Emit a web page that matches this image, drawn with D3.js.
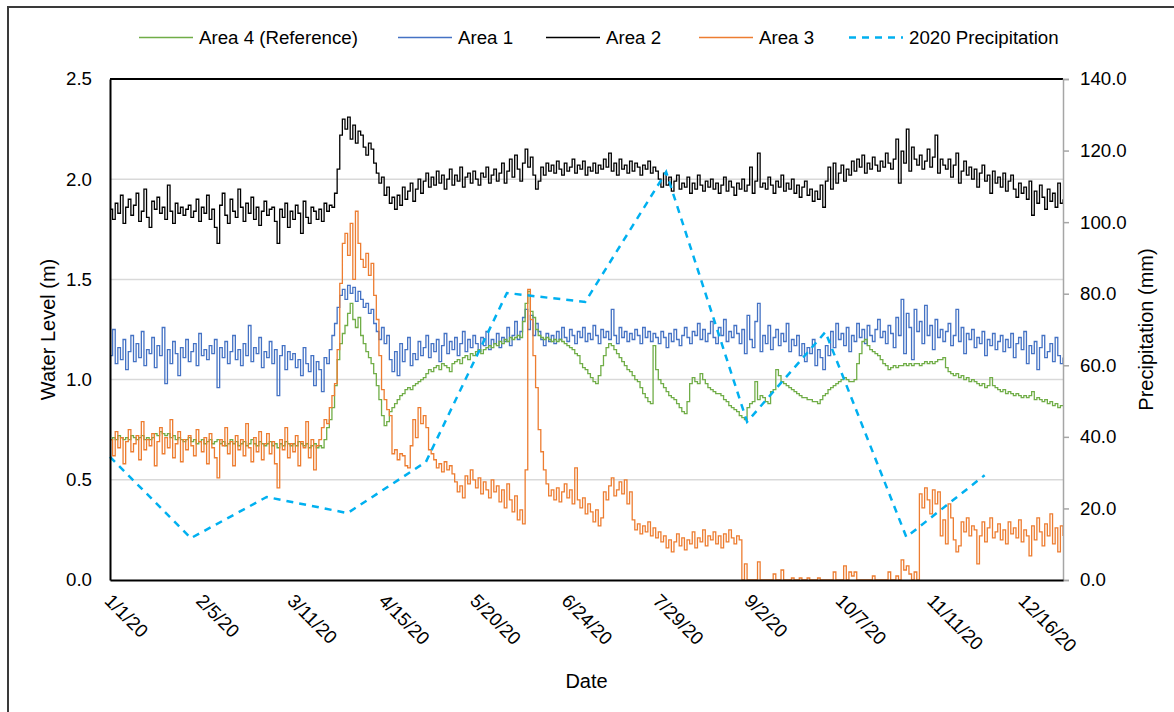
<!DOCTYPE html>
<html><head><meta charset="utf-8">
<script src="https://cdn.jsdelivr.net/npm/d3@7"></script>
<style>
body{margin:0;background:#fff;}
svg{display:block;font-family:"Liberation Sans",Arial,sans-serif;}
</style>
</head><body>
<svg id="chart" width="1174" height="712"></svg>
<script>
// ---------------- DATA ----------------
const startDate = "2020-01-01";
const endDate = "2020-12-31";

// Area 4 (Reference) daily water level (m)
const area4 = [
0.70,0.71,0.70,0.72,0.71,0.70,0.71,0.70,0.72,0.71,
0.70,0.71,0.72,0.70,0.71,0.70,0.71,0.73,0.72,0.74,
0.73,0.72,0.73,0.71,0.72,0.70,0.71,0.70,0.69,0.70,
0.71,0.69,0.70,0.68,0.69,0.70,0.68,0.69,0.70,0.68,
0.69,0.70,0.68,0.69,0.67,0.68,0.70,0.68,0.69,0.67,
0.68,0.69,0.67,0.68,0.70,0.68,0.67,0.69,0.68,0.67,
0.68,0.69,0.67,0.68,0.66,0.68,0.67,0.69,0.68,0.67,
0.68,0.67,0.69,0.68,0.67,0.68,0.66,0.67,0.68,0.66,
0.67,0.66,0.70,0.76,0.80,0.86,0.97,1.10,1.18,1.23,
1.27,1.33,1.38,1.30,1.26,1.31,1.22,1.18,1.14,1.11,
1.08,1.03,0.97,0.90,0.82,0.77,0.79,0.84,0.86,0.88,
0.90,0.92,0.93,0.95,0.96,0.95,0.97,0.98,0.99,1.00,
1.01,1.03,1.05,1.04,1.06,1.07,1.05,1.08,1.07,1.06,
1.04,1.08,1.09,1.10,1.08,1.11,1.12,1.10,1.13,1.12,
1.14,1.15,1.13,1.15,1.16,1.17,1.16,1.18,1.17,1.19,
1.18,1.20,1.19,1.21,1.20,1.21,1.22,1.21,1.29,1.38,
1.44,1.34,1.31,1.25,1.22,1.21,1.20,1.21,1.20,1.19,
1.20,1.19,1.20,1.19,1.18,1.17,1.16,1.15,1.13,1.12,
1.08,1.06,1.05,1.03,1.01,0.99,0.98,1.02,1.07,1.12,
1.16,1.18,1.17,1.15,1.13,1.11,1.09,1.07,1.05,1.04,
1.02,1.00,0.99,0.96,0.93,0.91,0.89,0.88,1.17,1.05,
1.00,0.98,0.96,0.94,0.92,0.91,0.90,0.88,0.86,0.84,
0.83,0.89,0.98,1.01,0.99,0.98,1.03,1.00,0.98,0.96,
0.95,0.94,0.93,0.93,0.92,0.90,0.89,0.87,0.86,0.85,
0.84,0.82,0.81,0.80,0.86,0.88,0.89,0.99,0.90,0.92,
0.91,0.89,0.88,0.94,0.95,1.05,1.02,0.99,0.98,0.97,
0.96,0.95,0.94,0.93,0.92,0.91,0.91,0.90,0.90,0.89,
0.89,0.88,0.90,0.92,0.93,0.95,0.96,0.97,0.98,0.99,
1.00,1.01,1.00,0.99,0.99,1.00,1.08,1.13,1.19,1.20,
1.17,1.15,1.14,1.13,1.12,1.10,1.08,1.07,1.05,1.06,
1.07,1.06,1.07,1.07,1.08,1.07,1.08,1.07,1.08,1.08,
1.07,1.08,1.09,1.08,1.09,1.08,1.09,1.10,1.10,1.11,
1.06,1.04,1.03,1.02,1.03,1.01,1.02,1.00,1.01,0.99,
1.00,0.99,0.98,0.97,0.98,0.96,0.97,1.01,0.97,0.96,
0.95,0.94,0.95,0.93,0.94,0.93,0.92,0.93,0.92,0.91,
0.92,0.91,0.92,0.94,0.90,0.91,0.90,0.89,0.90,0.88,
0.89,0.87,0.88,0.86,0.87,0.87
];

// Area 1 daily water level (m)
const area1 = [
1.12,1.25,1.08,1.16,1.10,1.20,1.05,1.14,1.22,1.09,
1.18,1.11,1.24,1.07,1.15,1.13,1.21,1.06,1.17,1.12,
1.26,0.98,1.15,1.08,1.19,1.13,1.02,1.16,1.11,1.20,
1.09,1.14,1.18,1.07,1.23,1.12,1.15,1.10,1.17,1.13,
1.20,0.96,1.16,1.11,1.19,1.08,1.14,1.22,1.10,1.15,
1.07,1.18,1.12,1.27,1.09,1.16,1.13,1.21,1.06,1.14,
1.11,1.19,1.08,1.15,0.92,1.12,1.17,1.05,1.14,1.10,
1.13,1.06,1.10,1.02,1.16,1.08,1.04,1.12,0.97,1.09,
1.05,0.94,1.11,1.08,1.15,1.22,1.28,1.36,1.42,1.45,
1.40,1.47,1.43,1.46,1.39,1.44,1.40,1.36,1.38,1.33,
1.35,1.28,1.24,1.20,1.26,1.18,1.22,1.10,1.04,1.14,
1.02,1.18,1.09,1.15,1.21,1.07,1.13,1.10,1.19,1.12,
1.16,1.22,1.11,1.18,1.14,1.20,1.09,1.17,1.23,1.13,
1.19,1.15,1.21,1.12,1.18,1.24,1.14,1.20,1.16,1.22,
1.18,1.14,1.21,1.17,1.24,1.15,1.20,1.18,1.23,1.16,
1.21,1.19,1.26,1.17,1.22,1.29,1.20,1.24,1.31,1.35,
1.25,1.32,1.22,1.28,1.24,1.20,1.17,1.23,1.19,1.22,
1.18,1.24,1.20,1.26,1.21,1.19,1.25,1.22,1.18,1.24,
1.21,1.26,1.19,1.23,1.20,1.27,1.22,1.18,1.25,1.21,
1.24,1.20,1.35,1.22,1.18,1.26,1.21,1.24,1.19,1.23,
1.20,1.25,1.22,1.18,1.26,1.21,1.24,1.19,1.23,1.21,
1.18,1.24,1.21,1.16,1.23,1.19,1.25,1.20,1.17,1.22,
1.26,1.21,1.18,1.24,1.22,1.28,1.20,1.25,1.19,1.23,
1.29,1.21,1.18,1.26,1.22,1.30,1.19,1.24,1.21,1.27,
1.23,1.18,1.25,1.13,1.32,1.20,1.16,1.29,1.38,1.14,
1.22,1.18,1.27,1.15,1.21,1.25,1.17,1.23,1.19,1.28,
1.14,1.20,1.17,1.22,1.12,1.18,1.09,1.16,1.13,1.20,
1.07,1.15,1.11,1.05,1.17,1.12,1.24,1.16,1.28,1.20,
1.23,1.17,1.26,1.14,1.22,1.19,1.28,1.21,1.25,1.18,
1.27,1.22,1.19,1.25,1.30,1.21,1.24,1.18,1.27,1.23,
1.16,1.31,1.22,1.40,1.13,1.33,1.26,1.10,1.35,1.24,
1.29,1.18,1.37,1.22,1.27,1.15,1.30,1.21,1.25,1.19,
1.24,1.28,1.17,1.22,1.35,1.19,1.26,1.13,1.23,1.20,
1.25,1.16,1.21,1.18,1.24,1.12,1.20,1.17,1.23,1.15,
1.19,1.22,1.14,1.20,1.16,1.23,1.11,1.18,1.21,1.15,
1.24,1.08,1.17,1.13,1.19,1.05,1.16,1.22,1.11,1.14,
1.18,1.09,1.21,1.12,1.08,1.11
];

// Area 2 daily water level (m)
const area2 = [
1.85,1.80,1.88,1.83,1.92,1.78,1.86,1.90,1.82,1.87,
1.93,1.79,1.84,1.95,1.81,1.76,1.89,1.85,1.91,1.83,
1.86,1.80,1.97,1.84,1.78,1.88,1.83,1.86,1.82,1.85,
1.87,1.81,1.84,1.90,1.79,1.86,1.83,1.92,1.80,1.85,
1.76,1.68,1.87,1.93,1.82,1.78,1.90,1.84,1.81,1.95,
1.86,1.79,1.88,1.83,1.91,1.80,1.86,1.77,1.84,1.89,
1.82,1.85,1.86,1.79,1.68,1.85,1.81,1.88,1.76,1.84,
1.80,1.87,1.83,1.73,1.89,1.81,1.78,1.86,1.84,1.80,
1.85,1.79,1.88,1.84,1.87,1.86,1.93,2.05,2.22,2.30,
2.25,2.31,2.20,2.27,2.18,2.24,2.22,2.16,2.12,2.18,
2.15,2.08,2.03,1.98,2.01,1.92,1.96,1.88,1.91,1.85,
1.92,1.87,1.96,1.90,1.94,1.98,1.89,1.95,2.00,1.93,
1.99,2.03,1.96,2.01,1.97,2.04,1.98,2.02,1.95,2.00,
2.05,1.97,2.02,1.99,2.06,1.96,2.01,2.03,1.98,2.04,
2.00,1.97,2.03,2.01,2.06,1.98,2.02,2.05,1.99,2.03,
2.08,1.98,2.04,2.10,2.01,2.12,2.05,1.99,2.08,2.15,
2.06,2.11,2.02,1.95,1.99,2.06,2.02,2.08,2.04,2.07,
2.03,2.09,2.05,2.02,2.08,2.04,2.06,2.10,2.03,2.07,
2.05,2.09,2.02,2.06,2.04,2.08,2.03,2.07,2.05,2.10,
2.06,2.13,2.04,2.08,2.02,2.10,2.05,2.07,2.03,2.09,
2.04,2.08,2.06,2.02,2.07,2.05,2.09,2.03,2.06,2.04,
2.00,1.96,2.03,1.97,2.01,1.94,1.99,2.02,1.95,1.98,
1.96,2.01,1.93,1.98,1.95,2.02,1.97,1.94,1.99,1.96,
2.00,1.95,1.98,1.93,1.97,2.01,1.94,1.99,1.96,1.92,
1.98,1.95,2.00,1.94,1.97,2.06,1.93,1.99,2.13,1.96,
1.98,1.95,2.01,1.97,1.93,1.99,1.96,2.02,1.94,1.98,
1.95,2.00,1.93,1.97,1.91,1.96,1.99,1.92,1.95,1.89,
1.94,1.90,1.97,1.86,1.99,2.06,1.95,2.08,1.98,2.03,
2.07,1.99,2.05,2.02,2.09,2.04,2.10,2.06,2.12,2.03,
2.08,2.05,2.11,2.07,2.04,2.09,2.06,2.13,2.08,2.05,
2.10,2.20,1.98,2.14,2.08,2.25,2.04,2.16,2.10,2.07,
2.12,2.05,2.09,2.15,2.06,2.11,2.22,2.03,2.10,2.07,
2.05,2.10,2.01,2.07,2.13,1.98,2.04,2.09,2.02,2.06,
2.00,2.05,1.96,2.03,2.07,1.99,2.02,1.93,2.04,1.98,
2.01,1.96,2.03,1.94,1.99,2.02,1.95,1.91,1.98,1.93,
1.96,1.90,1.99,1.82,1.94,1.88,1.97,1.91,1.85,1.95,
1.89,1.93,1.86,1.98,1.88,1.90
];

// Area 3 daily water level (m)
const area3 = [
0.70,0.62,0.74,0.66,0.71,0.58,0.69,0.75,0.64,0.68,
0.72,0.60,0.79,0.65,0.70,0.67,0.73,0.57,0.69,0.76,
0.63,0.71,0.66,0.80,0.61,0.68,0.74,0.59,0.70,0.65,
0.72,0.67,0.62,0.75,0.69,0.64,0.71,0.58,0.73,0.66,
0.61,0.51,0.70,0.67,0.76,0.63,0.69,0.57,0.72,0.65,
0.70,0.62,0.78,0.66,0.59,0.71,0.64,0.74,0.60,0.68,
0.73,0.63,0.69,0.58,0.46,0.70,0.65,0.76,0.61,0.68,
0.64,0.72,0.57,0.69,0.66,0.79,0.61,0.70,0.55,0.67,
0.70,0.76,0.80,0.78,0.86,0.92,0.98,1.15,1.48,1.68,
1.73,1.62,1.78,1.50,1.84,1.68,1.60,1.56,1.63,1.52,
1.58,1.42,1.30,1.12,0.95,0.90,0.85,0.82,0.63,0.65,
0.60,0.63,0.62,0.57,0.56,0.67,0.80,0.71,0.86,0.78,
0.82,0.76,0.65,0.63,0.60,0.56,0.58,0.54,0.59,0.55,
0.57,0.53,0.49,0.44,0.47,0.41,0.52,0.48,0.55,0.50,
0.46,0.51,0.43,0.49,0.45,0.41,0.50,0.44,0.47,0.39,
0.45,0.36,0.48,0.40,0.34,0.42,0.30,0.35,0.28,0.55,
1.45,1.30,1.12,0.96,0.75,0.64,0.55,0.48,0.42,0.45,
0.40,0.46,0.39,0.44,0.48,0.41,0.45,0.38,0.56,0.40,
0.36,0.41,0.33,0.38,0.34,0.29,0.35,0.27,0.31,0.44,
0.40,0.47,0.51,0.42,0.45,0.49,0.43,0.50,0.38,0.44,
0.30,0.25,0.28,0.23,0.27,0.24,0.29,0.22,0.26,0.21,
0.24,0.19,0.22,0.16,0.20,0.14,0.19,0.23,0.17,0.21,
0.15,0.20,0.18,0.24,0.16,0.21,0.19,0.25,0.17,0.22,
0.20,0.24,0.18,0.22,0.16,0.23,0.19,0.25,0.21,0.18,
0.22,0.20,0.00,0.08,0.00,0.00,0.00,0.00,0.09,0.00,
0.00,0.00,0.00,0.00,0.03,0.00,0.00,0.05,0.00,0.00,
0.00,0.01,0.00,0.00,0.01,0.00,0.00,0.01,0.00,0.00,
0.00,0.01,0.00,0.00,0.00,0.00,0.00,0.04,0.00,0.00,
0.00,0.07,0.00,0.04,0.02,0.04,0.00,0.00,0.00,0.00,
0.00,0.00,0.02,0.00,0.00,0.00,0.00,0.00,0.04,0.00,
0.00,0.02,0.00,0.10,0.05,0.07,0.03,0.00,0.04,0.00,
0.43,0.36,0.46,0.40,0.33,0.45,0.38,0.44,0.22,0.30,
0.18,0.38,0.31,0.20,0.14,0.17,0.29,0.24,0.31,0.22,
0.27,0.25,0.08,0.22,0.29,0.19,0.26,0.31,0.21,0.24,
0.28,0.20,0.25,0.18,0.29,0.23,0.26,0.21,0.30,0.19,
0.25,0.22,0.12,0.27,0.20,0.31,0.24,0.17,0.28,0.22,
0.33,0.18,0.26,0.14,0.27,0.22
];

// 2020 monthly precipitation (mm), plotted on the 1st of each month
const precipDates = ["2020-01-01","2020-02-01","2020-03-01","2020-04-01","2020-05-01","2020-06-01",
                     "2020-07-01","2020-08-01","2020-09-01","2020-10-01","2020-11-01","2020-12-01"];
const precipValues = [34.4, 11.7, 23.2, 18.7, 33.0, 80.2, 77.7, 114.0, 44.2, 69.3, 12.0, 29.3];

const xTickLabels = ["1/1/20","2/5/20","3/11/20","4/15/20","5/20/20","6/24/20","7/29/20","9/2/20","10/7/20","11/11/20","12/16/20"];
const leftTicks = [0, 0.5, 1.0, 1.5, 2.0, 2.5];
const rightTicks = [0, 20, 40, 60, 80, 100, 120, 140];
const seriesNames = ["Area 4 (Reference)", "Area 1", "Area 2", "Area 3", "2020 Precipitation"];

// ---------------- CHART ----------------
const svg = d3.select("#chart");
const parse = d3.timeParse("%Y-%m-%d");
const parseTick = d3.timeParse("%m/%d/%y");

const M = {left: 110, right: 1063, top: 79, bottom: 580};
const x = d3.scaleTime().domain([parse(startDate), parse(endDate)]).range([M.left, M.right]);
const yL = d3.scaleLinear().domain([0, 2.5]).range([M.bottom, M.top]);
const yR = d3.scaleLinear().domain([0, 140]).range([M.bottom, M.top]);

const colors = {a4: "#70AD47", a1: "#4472C4", a2: "#000000", a3: "#ED7D31", p: "#00B0F0"};

// outer frame
svg.append("rect").attr("x", 8).attr("y", 7).attr("width", 1200).attr("height", 760)
  .attr("fill", "none").attr("stroke", "#3a3a3a").attr("stroke-width", 2);

// gridlines
svg.append("g").selectAll("line").data(leftTicks.filter(d => d > 0 && d < 2.5)).join("line")
  .attr("x1", M.left).attr("x2", M.right)
  .attr("y1", d => yL(d)).attr("y2", d => yL(d))
  .attr("stroke", "#d9d9d9").attr("stroke-width", 1.5);

// series
const t0 = parse(startDate);
function toPoints(arr) { return arr.map((v, i) => ({date: d3.timeDay.offset(t0, i), v})); }
const lineL = d3.line().x(d => x(d.date)).y(d => yL(d.v)).curve(d3.curveStepAfter);

const plotG = svg.append("g");
[[area1, colors.a1], [area2, colors.a2], [area4, colors.a4], [area3, colors.a3]].forEach(([arr, c]) => {
  plotG.append("path").datum(toPoints(arr)).attr("d", lineL)
    .attr("fill", "none").attr("stroke", c).attr("stroke-width", 1.3).attr("stroke-linejoin", "miter");
});

// precipitation
const precipPts = precipDates.map((d, i) => ({date: parse(d), v: precipValues[i]}));
plotG.append("path").datum(precipPts)
  .attr("d", d3.line().x(d => x(d.date)).y(d => yR(d.v)))
  .attr("fill", "none").attr("stroke", colors.p).attr("stroke-width", 2.5)
  .attr("stroke-dasharray", "7,6");

// plot frame lines (top/left/bottom black)
svg.append("line").attr("x1", M.left).attr("x2", M.right).attr("y1", M.top).attr("y2", M.top)
  .attr("stroke", "#000").attr("stroke-width", 2);

// left axis
const axL = svg.append("g").attr("transform", `translate(${M.left},0)`)
  .call(d3.axisLeft(yL).tickValues(leftTicks).tickFormat(d3.format(".1f")).tickSize(0).tickPadding(18));
axL.select(".domain").attr("stroke", "#000").attr("stroke-width", 2);
axL.selectAll("text").attr("font-size", "18.7px").attr("fill", "#000").attr("font-family", "Liberation Sans, Arial, sans-serif");

// right axis
const axR = svg.append("g").attr("transform", `translate(${M.right},0)`)
  .call(d3.axisRight(yR).tickValues(rightTicks).tickFormat(d3.format(".1f")).tickSize(6).tickPadding(11));
axR.select(".domain").attr("stroke", "#a6a6a6").attr("stroke-width", 1.5);
axR.selectAll(".tick line").attr("stroke", "#a6a6a6").attr("stroke-width", 1.5);
axR.selectAll("text").attr("font-size", "18.7px").attr("fill", "#000").attr("font-family", "Liberation Sans, Arial, sans-serif");

// bottom axis
const tickDates = xTickLabels.map(s => parseTick(s));
const axB = svg.append("g").attr("transform", `translate(0,${M.bottom})`)
  .call(d3.axisBottom(x).tickValues(tickDates).tickSize(0)
    .tickFormat((d, i) => xTickLabels[i]));
axB.select(".domain").attr("stroke", "#000").attr("stroke-width", 2);
axB.selectAll("text")
  .attr("x", 0).attr("y", 0).attr("dy", 0)
  .attr("text-anchor", "start")
  .attr("transform", "translate(-7,22) rotate(45)")
  .attr("font-size", "18.7px").attr("fill", "#000").attr("font-family", "Liberation Sans, Arial, sans-serif");

// axis titles
svg.append("text").attr("transform", `translate(55,${(M.top + M.bottom) / 2}) rotate(-90)`)
  .attr("text-anchor", "middle").attr("font-size", "20px").attr("fill", "#000").text("Water Level (m)");
svg.append("text").attr("transform", `translate(1153,${(M.top + M.bottom) / 2}) rotate(-90)`)
  .attr("text-anchor", "middle").attr("font-size", "20px").attr("fill", "#000").text("Precipitation (mm)");
svg.append("text").attr("x", (M.left + M.right) / 2).attr("y", 688)
  .attr("text-anchor", "middle").attr("font-size", "20px").attr("fill", "#000").text("Date");

// legend
const legendX = [139, 398, 546, 699, 849];
const legendColors = [colors.a4, colors.a1, colors.a2, colors.a3, colors.p];
const lg = svg.append("g");
seriesNames.forEach((name, i) => {
  const g = lg.append("g").attr("transform", `translate(${legendX[i]},37.5)`);
  g.append("line").attr("x1", 0).attr("x2", 54).attr("y1", 0).attr("y2", 0)
    .attr("stroke", legendColors[i]).attr("stroke-width", i === 4 ? 2.5 : 1.5)
    .attr("stroke-dasharray", i === 4 ? "7,6" : null);
  g.append("text").attr("x", 60).attr("y", 6.7).attr("font-size", "18.7px").attr("fill", "#000").text(name);
});
</script>
</body></html>
